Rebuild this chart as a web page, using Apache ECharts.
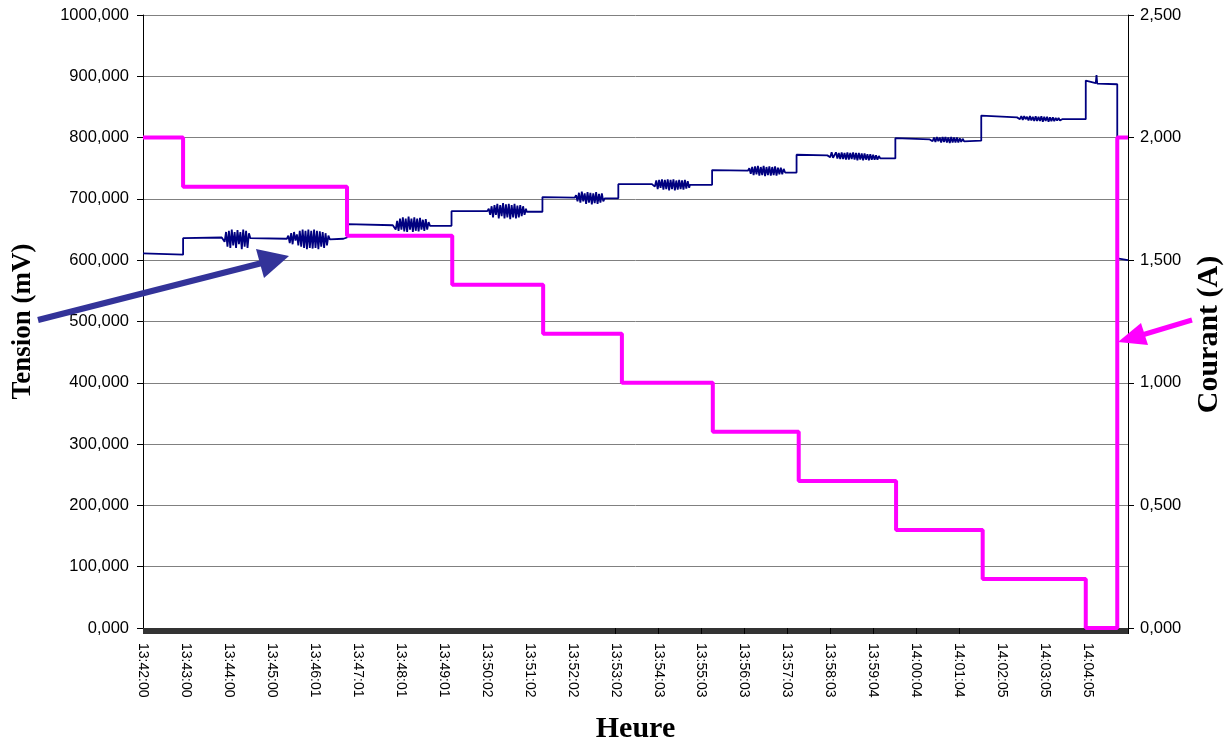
<!DOCTYPE html>
<html><head><meta charset="utf-8">
<script src="https://cdn.jsdelivr.net/npm/echarts@6/dist/echarts.min.js"></script>
<style>html,body{margin:0;padding:0;background:#fff}#c{width:1231px;height:744px}</style>
</head><body><div id="c"></div>
<script>
// x axis = sample number (one label every 60 samples)
const timeLabels = ['13:42:00','13:43:00','13:44:00','13:45:00','13:46:01','13:47:01','13:48:01','13:49:01',
  '13:50:02','13:51:02','13:52:02','13:53:02','13:54:03','13:55:03','13:56:03','13:57:03','13:58:03',
  '13:59:04','14:00:04','14:01:04','14:02:05','14:03:05','14:04:05'];
const tensionTickLabels = ['0,000','100,000','200,000','300,000','400,000','500,000','600,000','700,000','800,000','900,000','1000,000'];
const courantTickLabels = ['0,000','0,500','1,000','1,500','2,000','2,500'];
const sampleMax = 1376;

// Courant (A): [sample, value] at each step start
const courant = [[0,2.0],[56,1.8],[285,1.6],[432,1.4],[559,1.2],[669,1.0],[796,0.8],[916,0.6],[1052,0.4],[1173,0.2],[1317,0.0],[1361,2.0],[1376,2.0]];

// Tension (mV): [sample, value]
const tension = [
 [0,611],[56,609],[56,636],[110,637],
 [112,640],[114,630],[116,646],[118,622],[120,648],[122,620],[124,650],[126,624],[128,646],[130,620],[132,649],[134,626],[136,646],[138,618],[140,650],[142,622],[144,648],[146,620],[148,644],[150,636],
 [201,635],[203,640],[205,628],[207,644],[209,626],[211,646],[213,632],[215,642],[217,624],[219,648],[221,622],[223,650],[225,620],[227,648],[229,618],[231,650],[233,620],[235,648],[237,619],[239,650],[241,620],[243,648],[245,618],[247,647],[249,622],[251,646],[253,620],[255,644],[257,624],[259,640],[261,634],
 [280,635],[281,637],[285,637],[285,659],[349,657],
 [351,660],[353,650],[355,664],[357,648],[359,668],[361,650],[363,670],[365,647],[367,668],[369,646],[371,671],[373,650],[375,668],[377,646],[379,670],[381,648],[383,668],[385,647],[387,669],[389,650],[391,666],[393,648],[395,667],[397,650],[399,662],[401,656],
 [431,656],[431,680],[481,680],
 [483,684],[485,674],[487,688],[489,670],[491,690],[493,674],[495,692],[497,668],[499,690],[501,672],[503,693],[505,668],[507,691],[509,670],[511,692],[513,667],[515,690],[517,670],[519,692],[521,668],[523,689],[525,670],[527,690],[529,672],[531,688],[533,674],[535,684],[536,679],
 [558,679],[558,703],[603,702],
 [605,706],[607,696],[609,710],[611,694],[613,712],[615,696],[617,709],[619,692],[621,711],[623,694],[625,710],[627,691],[629,709],[631,693],[633,711],[635,692],[637,708],[639,694],[641,709],[643,696],[645,701],
 [664,701],[664,724],[711,724],
 [713,727],[715,720],[717,730],[719,716],[721,731],[723,718],[725,732],[727,715],[729,731],[731,716],[733,732],[735,714],[737,731],[739,716],[741,732],[743,714],[745,730],[747,715],[749,731],[751,716],[753,730],[755,715],[757,731],[759,717],[761,729],[763,718],[764,723],
 [795,723],[795,747],[845,746],
 [847,750],[849,741],[851,752],[853,739],[855,753],[857,740],[859,754],[861,738],[863,752],[865,739],[867,754],[869,737],[871,752],[873,739],[875,753],[877,738],[879,752],[881,739],[883,753],[885,738],[887,751],[889,740],[891,751],[893,740],[895,749],[897,743],
 [913,743],[913,772],[956,771],
 [958,774],[960,768],[962,776],[964,767],[966,770],[968,776],[970,766],[972,775],[974,765],[976,776],[978,765],[980,775],[982,764],[984,776],[986,764],[988,775],[990,765],[992,776],[994,764],[996,775],[998,763],[1000,775],[1002,764],[1004,774],[1006,763],[1008,774],[1010,764],[1012,773],[1014,763],[1016,773],[1018,764],[1020,772],[1022,764],[1024,771],[1026,764],[1028,770],[1030,766],
 [1051,766],[1051,799],[1099,797],
 [1101,799],[1103,794],[1105,800],[1107,793],[1109,801],[1111,794],[1113,800],[1115,792],[1117,801],[1119,793],[1121,801],[1123,792],[1125,800],[1127,791],[1129,801],[1131,792],[1133,800],[1135,792],[1137,800],[1139,792],[1141,799],[1143,793],[1145,798],[1147,794],[1148,795],
 [1171,795],[1171,836],[1221,833],
 [1223,835],[1225,830],[1227,835],[1229,829],[1231,835],[1233,830],[1235,834],[1237,828],[1239,835],[1241,828],[1243,834],[1245,827],[1247,835],[1249,827],[1251,834],[1253,827],[1255,835],[1257,826],[1259,834],[1261,827],[1263,834],[1265,826],[1267,833],[1269,827],[1271,833],[1273,827],[1275,832],[1277,828],[1279,832],[1281,828],[1283,831],[1284,830],
 [1317,830],[1317,893],[1331,889],[1332,902],[1333,888],[1361,887],[1361,603],[1376,600]
];

const chart = echarts.init(document.getElementById('c'), null, {renderer:'canvas'});
const sans = 'Liberation Sans, Arial, sans-serif';
const serif = 'Liberation Serif, Times New Roman, serif';
chart.setOption({
  animation:false,
  backgroundColor:'#fff',
  grid:{left:143, right:103, top:15, bottom:116, containLabel:false, outerBoundsMode:'none'},
  xAxis:{
    type:'value', min:0, max:sampleMax, interval:60,
    name:'Heure', nameLocation:'middle', nameGap:86,
    nameTextStyle:{fontFamily:serif, fontWeight:'bold', fontSize:30, color:'#000'},
    axisLine:{show:true, lineStyle:{color:'#000', width:1}},
    axisTick:{show:true, length:6, lineStyle:{color:'#000'}},
    minorTick:{show:true, splitNumber:60, length:6, lineStyle:{color:'#333', width:1}},
    splitLine:{show:false},
    axisLabel:{rotate:-90, fontFamily:sans, fontSize:14, color:'#000', margin:15,
      formatter:v => (v % 60 === 0 && timeLabels[v/60]) ? timeLabels[v/60] : ''},
  },
  yAxis:[{
    type:'value', min:0, max:1000, interval:100, position:'left',
    name:'Tension (mV)', nameLocation:'middle', nameGap:106, nameRotate:90,
    nameTextStyle:{fontFamily:serif, fontWeight:'bold', fontSize:27, color:'#000'},
    axisLine:{show:true, lineStyle:{color:'#000', width:1}},
    axisTick:{show:true, length:6, lineStyle:{color:'#000'}},
    splitLine:{show:true, lineStyle:{color:'#808080', width:1}},
    axisLabel:{fontFamily:sans, fontSize:16.5, color:'#000', margin:14,
      formatter:v => tensionTickLabels[Math.round(v/100)]}
  },{
    type:'value', min:0, max:2.5, interval:0.5, position:'right',
    name:'Courant (A)', nameLocation:'middle', nameGap:66, nameRotate:90,
    nameTextStyle:{fontFamily:serif, fontWeight:'bold', fontSize:30, color:'#000', padding:[0,26,0,0]},
    axisLine:{show:true, lineStyle:{color:'#000', width:1}},
    axisTick:{show:true, length:6, lineStyle:{color:'#000'}},
    splitLine:{show:false},
    axisLabel:{fontFamily:sans, fontSize:16.5, color:'#000', margin:12,
      formatter:v => courantTickLabels[Math.round(v/0.5)]}
  }],
  series:[{
    name:'Tension', type:'line', yAxisIndex:0, data:tension, showSymbol:false, symbol:'none',
    lineStyle:{color:'#000080', width:1.8}, clip:false, z:2
  },{
    name:'Courant', type:'line', yAxisIndex:1, data:courant, step:'end', showSymbol:false, symbol:'none',
    lineStyle:{color:'#ff00ff', width:4}, clip:false, z:3
  }],
  graphic:[
    {type:'line', shape:{x1:38, y1:320, x2:262, y2:263}, style:{stroke:'#333399', lineWidth:6}, z:10},
    {type:'polygon', shape:{points:[[289,256],[264,278],[256,249]]}, style:{fill:'#333399'}, z:10},
    {type:'line', shape:{x1:1192, y1:320, x2:1142, y2:335}, style:{stroke:'#ff00ff', lineWidth:5}, z:10},
    {type:'polygon', shape:{points:[[1118,342],[1148,345],[1141,323]]}, style:{fill:'#ff00ff'}, z:10}
  ]
});
</script></body></html>
